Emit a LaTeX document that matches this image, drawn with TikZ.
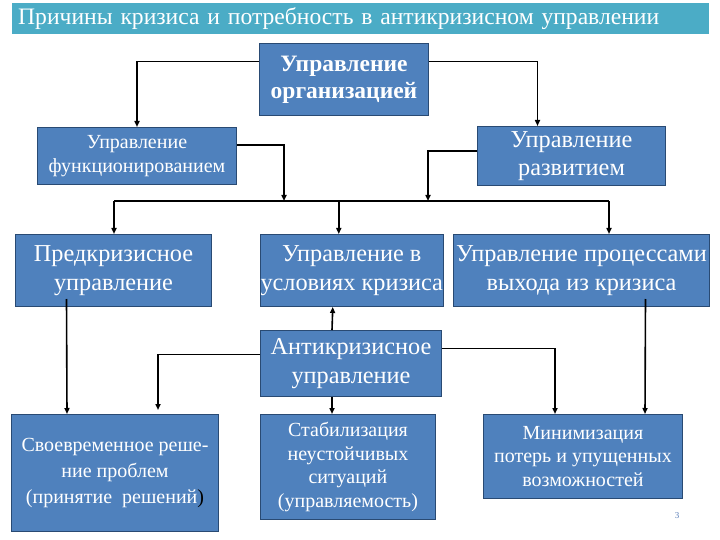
\documentclass[tikz,border=0pt]{standalone}
\usepackage{fontspec}
\setmainfont{Liberation Serif}
\usetikzlibrary{arrows.meta, positioning}
\definecolor{boxblue}{HTML}{4F81BD}
\definecolor{boxedge}{HTML}{294A73}
\definecolor{titlebar}{HTML}{4BACC6}
\definecolor{pagenum}{HTML}{5B7FB8}
\begin{document}
\begin{tikzpicture}[x=1pt, y=-1pt,
  >={Triangle[length=6pt, width=5pt]},
  blockbox/.style={
    draw=boxedge, line width=1pt, fill=boxblue, text=white,
    align=center, anchor=north west, inner sep=0pt
  },
  bigtext/.style={font=\fontsize{24.3}{28.5}\selectfont},
  smalltext/.style={font=\fontsize{20}{23.5}\selectfont},
  arr/.style={->, line width=1.6pt, black},
  link/.style={line width=1.6pt, black},
]

% ============================================================
% Canvas and title
% ============================================================
\useasboundingbox (0,0) rectangle (720,540);
\fill[white] (0,0) rectangle (720,540);

\node[fill=titlebar, anchor=north west, minimum width=697pt, minimum height=31pt,
      text width=685pt, inner xsep=6pt, inner ysep=0pt, align=left, text=white,
      font=\fontsize{23.6}{26}\selectfont] (title) at (12,3)
  {Причины кризиса и потребность в антикризисном управлении};

% ============================================================
% Boxes (top to bottom)
% ============================================================
\node[blockbox, minimum width=169pt, minimum height=72pt,
      font=\fontsize{23.5}{27}\selectfont\bfseries] (org) at (259,43)
  {Управление\\организацией};

\node[blockbox, minimum width=199pt, minimum height=57pt,
      font=\fontsize{20}{24}\selectfont] (func) at (37,127)
  {Управление\\функционированием};
\node[blockbox, bigtext, minimum width=188pt, minimum height=59pt] (razv) at (477,126)
  {Управление\\развитием};

\node[blockbox, bigtext, minimum width=196pt, minimum height=72pt] (pre) at (15,234)
  {Предкризисное\\управление};
\node[blockbox, bigtext, minimum width=181pt, minimum height=72pt] (crisis) at (260,234)
  {Управление в\\условиях кризиса};
\node[blockbox, bigtext, minimum width=256pt, minimum height=72pt] (proc) at (453,234)
  {Управление процессами\\выхода из кризиса};

\node[blockbox, bigtext, minimum width=181pt, minimum height=66pt] (anti) at (260,330)
  {Антикризисное\\управление};

\node[blockbox, font=\fontsize{20}{26}\selectfont, minimum width=207pt, minimum height=117pt] (timely) at (11,414)
  {Своевременное реше-\\ние проблем\\(принятие\ \ решений{\color{black})}};
\node[blockbox, smalltext, minimum width=175pt, minimum height=105pt] (stab) at (260,414)
  {Стабилизация\\неустойчивых\\ситуаций\\(управляемость)};
\node[blockbox, smalltext, minimum width=199pt, minimum height=84pt] (minim) at (483,414)
  {Минимизация\\потерь и упущенных\\возможностей};

\node[font=\fontsize{9}{10}\selectfont, text=pagenum] (pagenum) at (677,516) {3};

% ============================================================
% Top level split
% ============================================================
\draw[arr] ([yshift=18pt]org.west) -| (func.north);
\draw[arr] ([yshift=18pt]org.east) -| ([xshift=-34pt]razv.north);

% ============================================================
% Distribution bus
% ============================================================
\coordinate (bus-l) at (114,201);
\coordinate (bus-f) at (284,201);
\coordinate (bus-r) at (428,201);
\coordinate (bus-e) at (609,201);

\draw[arr] ([yshift=11pt]func.east) -| (bus-f);
\draw[arr] ([yshift=5pt]razv.west) -| (bus-r);
\draw[link] (bus-l) -- (bus-e);

\draw[arr] (bus-l) -- (bus-l |- pre.north);
\draw[arr] (bus-l -| crisis.north) ++(-13,0) coordinate (bus-c) -- (bus-c |- crisis.north);
\draw[arr] (bus-e) -- (bus-e |- proc.north);

% ============================================================
% Down to the bottom row
% ============================================================
\draw[arr] ([xshift=-47pt, yshift=8pt]pre.south) -- ([xshift=-48pt]timely.north);
\draw[arr] ([xshift=64pt, yshift=8pt]proc.south) -- ([xshift=62pt]minim.north);

\draw[arr] ([xshift=-19pt]anti.north) -- ([xshift=-19pt]crisis.south);
\draw[arr] ([xshift=-19pt]anti.south) -- ([xshift=-16pt]stab.north);

\draw[arr] ([yshift=9pt]anti.west) -| ([xshift=43pt, yshift=4pt]timely.north);
\draw[arr] ([yshift=15pt]anti.east) -| ([xshift=-28pt]minim.north);

\end{tikzpicture}
\end{document}
